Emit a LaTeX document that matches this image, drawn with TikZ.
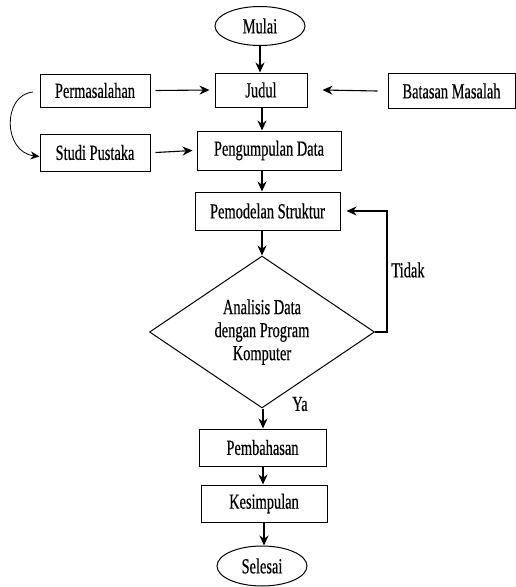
\documentclass[tikz,border=0pt]{standalone}
\usepackage{fontspec}
\setmainfont[FakeStretch=0.67,FakeBold=0.4]{Liberation Serif}
\usetikzlibrary{shapes.geometric,arrows.meta}
\begin{document}
\begin{tikzpicture}[x=1pt,y=-1pt,
  every node/.style={font=\fontsize{21.5}{23}\selectfont, inner sep=0pt},
  box/.style={draw, line width=1pt, rectangle, minimum width=#1, minimum height=37pt},
  term/.style={draw, line width=1pt, ellipse, minimum width=90pt, minimum height=39pt},
  arr/.style={-{Stealth[length=10pt,width=9pt]}, line width=1.1pt},
  lbl/.style={font=\fontsize{21.5}{23}\selectfont}]
\useasboundingbox (0,0) rectangle (516,587);
\node[term] (mulai) at (260,26) {Mulai};
\node[box=92pt, minimum height=34pt] (judul) at (261,90) {Judul};
\node[box=110pt, minimum height=33pt] (perm) at (95,90.5) {Permasalahan};
\node[box=127pt, minimum height=35pt] (bat) at (451.5,91) {Batasan Masalah};
\node[box=144pt, minimum height=39pt] (peng) at (269,150.5) {Pengumpulan Data};
\node[box=110pt, minimum height=37pt] (studi) at (95,152.5) {Studi Pustaka};
\node[box=145pt, minimum height=38pt] (pemod) at (267.5,211) {Pemodelan Struktur};
\node[draw, line width=1pt, diamond, aspect=1.48, minimum width=225pt, minimum height=152pt, align=center, inner sep=0pt] (dia) at (262,332) {Analisis Data\\dengan Program\\Komputer};
\node[box=127pt] (pemb) at (262.5,447.5) {Pembahasan};
\node[box=126pt] (kes) at (264,503.5) {Kesimpulan};
\node[term, minimum height=40pt] (sel) at (262,566) {Selesai};
\node[lbl] (tidak) at (408,270) {Tidak};
\node[lbl] (ya) at (300,404) {Ya};

\draw[arr] (mulai) -- (mulai |- judul.north);
\draw[arr] (perm.east) ++(5,0) -- ([xshift=-5pt]judul.west);
\draw[arr] (bat.west) ++(-10,0) -- ([xshift=15pt]judul.east);
\draw[arr] ([xshift=1pt]judul.south) -- ([xshift=1pt]judul.south |- peng.north);
\draw[arr] (studi.east) ++(5,0) -- ([xshift=-4pt]peng.west);
\draw[arr] (dia.north |- peng.south) -- (dia.north |- pemod.north);
\draw[arr] (dia.north |- pemod.south) -- (dia.north);
\draw[arr] (dia.east) -- ++(12,0) |- ([xshift=6pt]pemod.east);
\draw[arr] ([xshift=1pt]dia.south) -- ([xshift=1pt]dia.south |- pemb.north);
\draw[arr] ([xshift=1pt]dia.south |- pemb.south) -- ([xshift=1pt]dia.south |- kes.north);
\draw[arr] ([xshift=2pt]dia.south |- kes.south) -- ([xshift=2pt]dia.south |- sel.north);
\coordinate (cs) at (33,92);
\draw[-{Stealth[length=9pt,width=8pt]}, line width=0.8pt] (cs) .. controls (2,95) and (3,152) .. ([yshift=-4pt]studi.west);
\end{tikzpicture}
\end{document}
